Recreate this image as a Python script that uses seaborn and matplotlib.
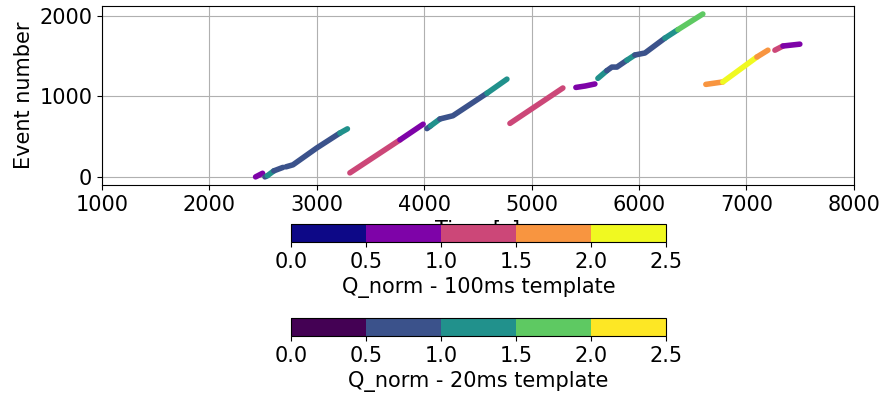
import numpy as np
import pandas as pd
import matplotlib
matplotlib.use("Agg")
import matplotlib.pyplot as plt
import matplotlib.colors as mcolors
import matplotlib.cm as cm
import seaborn as sns

# Pieces of the event-number vs time tracks.
# Each piece: time vertices [s], event-number vertices, Q_norm, template used
seg_time = [
    [2430, 2495],
    [2517, 2540],
    [2540, 2600],
    [2600, 2685],
    [2713, 2778, 3000, 3215],
    [3215, 3285],
    [3308, 3774],
    [3774, 3990],
    [4025, 4060],
    [4060, 4146],
    [4146, 4267, 4584],
    [4584, 4770],
    [4798, 5291],
    [5412, 5500, 5589],
    [5617, 5700],
    [5700, 5747, 5794, 5887],
    [5887, 5961],
    [5961, 6055, 6241],
    [6241, 6362],
    [6362, 6594],
    [6622, 6780],
    [6780, 7097],
    [7097, 7200],
    [7265, 7340],
    [7340, 7497],
]
seg_event = [
    [0, 45],
    [0, 15],
    [15, 75],
    [75, 118],
    [125, 150, 360, 545],
    [545, 597],
    [50, 460],
    [460, 655],
    [600, 635],
    [635, 720],
    [720, 760, 1040],
    [1040, 1215],
    [665, 1105],
    [1112, 1130, 1155],
    [1225, 1320],
    [1320, 1365, 1365, 1450],
    [1450, 1515],
    [1515, 1540, 1725],
    [1725, 1830],
    [1830, 2025],
    [1150, 1180],
    [1180, 1490],
    [1490, 1575],
    [1575, 1627],
    [1627, 1650],
]
seg_q = [0.75, 0.75, 1.25, 0.75, 0.75, 1.25, 1.25, 0.75, 0.75, 1.25, 0.75, 1.25,
         1.25, 0.75, 1.25, 0.75, 1.25, 0.75, 1.25, 1.75, 1.75, 2.25, 1.75, 1.25, 0.75]
seg_template = ["100ms", "20ms", "20ms", "20ms", "20ms", "20ms", "100ms", "100ms",
                "20ms", "20ms", "20ms", "20ms", "100ms", "100ms", "20ms", "20ms",
                "20ms", "20ms", "20ms", "20ms", "100ms", "100ms", "100ms", "100ms", "100ms"]

cbar_ticks = [0.0, 0.5, 1.0, 1.5, 2.0, 2.5]

rows = []
for i, (ts, ns) in enumerate(zip(seg_time, seg_event)):
    for t, n in zip(ts, ns):
        rows.append({"piece": i, "time": t, "event": n,
                     "q": seg_q[i], "template": seg_template[i]})
df = pd.DataFrame(rows)

cmaps = {"100ms": plt.get_cmap("plasma", 5), "20ms": plt.get_cmap("viridis", 5)}
norm = mcolors.Normalize(vmin=0, vmax=2.5)

plt.rcParams["font.size"] = 15
fig = plt.figure(figsize=(8.83, 3.96), dpi=100)
ax = fig.add_axes([0.1155, 0.533, 0.8515, 0.452])

for i, g in df.groupby("piece"):
    color = cmaps[seg_template[i]](norm(seg_q[i]))
    sns.lineplot(data=g, x="time", y="event", ax=ax, color=color, sort=False,
                 estimator=None, linewidth=4, solid_capstyle="round", legend=False)

ax.set_xlim(1000, 8000)
ax.set_ylim(-100, 2125)
ax.set_xticks(range(1000, 8001, 1000))
ax.set_yticks([0, 1000, 2000])
ax.grid(True, color="#b0b0b0", linewidth=0.8)
ax.set_axisbelow(True)
ax.set_xlabel("Time [s]")
ax.set_ylabel("Event number")

cax1 = fig.add_axes([0.3296, 0.389, 0.4247, 0.0455])
cb1 = fig.colorbar(cm.ScalarMappable(norm=norm, cmap=cmaps["100ms"]), cax=cax1,
                   orientation="horizontal", ticks=cbar_ticks)
cb1.set_label("Q_norm - 100ms template")

cax2 = fig.add_axes([0.3296, 0.1515, 0.4247, 0.0455])
cb2 = fig.colorbar(cm.ScalarMappable(norm=norm, cmap=cmaps["20ms"]), cax=cax2,
                   orientation="horizontal", ticks=cbar_ticks)
cb2.set_label("Q_norm - 20ms template")

fig.savefig("out.png", dpi=100)
